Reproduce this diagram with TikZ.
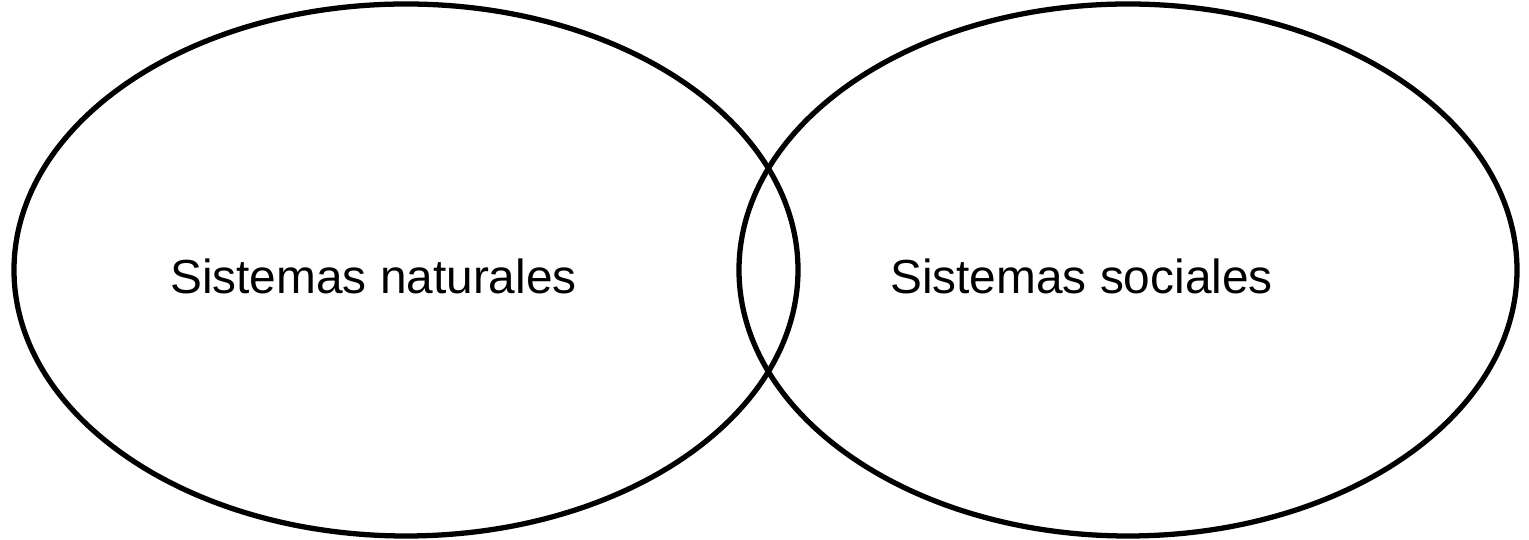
\documentclass[tikz,border=0pt]{standalone}
\usepackage{fontspec}
\setmainfont{Liberation Sans}
\usepackage{tikz}
\usetikzlibrary{positioning}
\definecolor{setline}{RGB}{0,0,0}
\definecolor{settext}{RGB}{0,0,0}
\tikzset{
  setring/.style={draw=setline, line width=1.5pt},
  setlabel/.style={text=settext, inner sep=0pt, anchor=base,
    font=\fontsize{13.6}{16}\selectfont}
}

\begin{document}
\begin{tikzpicture}
\useasboundingbox (0,0) rectangle (15.29,5.40);
\draw[setring] (4.06,2.70) ellipse [x radius=3.92, y radius=2.66];
\draw[setring] (11.28,2.70) ellipse [x radius=3.89, y radius=2.66];

\node[setlabel] (natural) at (3.735,2.46) {Sistemas naturales};
\node[setlabel] (social) at (10.815,2.46) {Sistemas sociales};
\end{tikzpicture}
\end{document}
